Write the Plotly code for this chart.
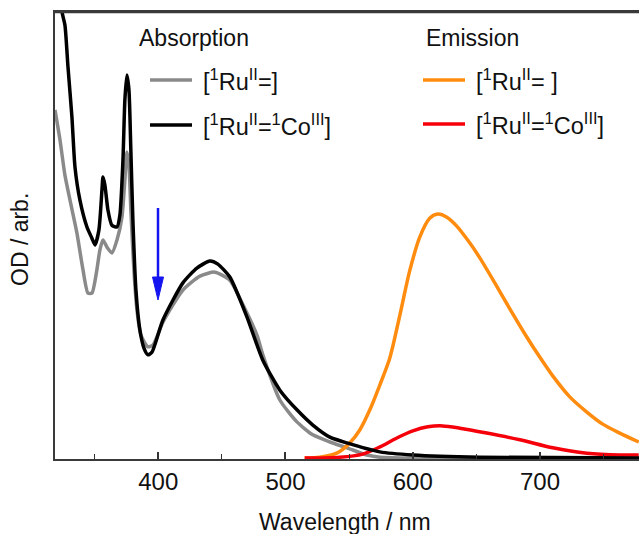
import plotly.graph_objects as go

# ---------------- data ----------------
abs_ru_wl = [318.9, 322.8, 326.7, 330.7, 336.1, 340.9, 344.8, 347.9, 351.8, 354.2,
             356.6, 359.7, 363.6, 367.6, 371.5, 373.8, 375.4, 377.0, 378.5, 380.9,
             383.3, 386.4, 391.9, 395.9, 403.7, 419.4, 432.8, 444.5, 456.3, 466.6,
             477.6, 482.2, 495.6, 509.0, 521.5, 534.9, 548.3, 564.0, 574.2, 605.6, 777.8]
abs_ru_od = [0.781, 0.714, 0.635, 0.579, 0.506, 0.423, 0.371, 0.371, 0.423, 0.468,
             0.490, 0.474, 0.461, 0.490, 0.541, 0.624, 0.687, 0.658, 0.557, 0.423,
             0.333, 0.277, 0.251, 0.255, 0.306, 0.378, 0.409, 0.418, 0.400, 0.345,
             0.277, 0.233, 0.132, 0.083, 0.054, 0.038, 0.025, 0.009, 0.004, 0.002, 0.001]

abs_ruco_wl = [318.9, 324.4, 326.7, 329.1, 332.2, 334.6, 338.5, 344.0, 347.9, 350.3,
               353.4, 355.8, 356.6, 358.1, 360.5, 363.6, 367.6, 369.9, 372.3, 373.8,
               375.4, 377.0, 378.5, 380.1, 382.5, 385.6, 388.8, 391.9, 395.1, 403.7,
               419.4, 430.4, 440.6, 446.9, 456.3, 469.7, 482.2, 495.6, 509.0, 521.5,
               534.9, 548.3, 574.2, 600.1, 652.8, 777.8]
abs_ruco_od = [1.139, 1.000, 0.971, 0.877, 0.765, 0.653, 0.579, 0.519, 0.494, 0.479,
               0.512, 0.602, 0.631, 0.613, 0.557, 0.523, 0.519, 0.546, 0.669, 0.803,
               0.859, 0.826, 0.691, 0.535, 0.378, 0.289, 0.248, 0.233, 0.239, 0.311,
               0.394, 0.427, 0.443, 0.436, 0.407, 0.318, 0.221, 0.154, 0.110, 0.076,
               0.049, 0.036, 0.016, 0.009, 0.004, 0.002]

em_ru_wl = [515.1, 526.9, 540.3, 550.5, 558.4, 566.3, 574.2, 582.0, 589.9, 597.8,
            605.6, 613.5, 619.7, 626.8, 634.6, 644.9, 652.7, 664.5, 676.3, 689.6,
            699.8, 710.0, 723.4, 736.8, 749.3, 762.7, 777.6]
em_ru_int = [0.002, 0.004, 0.013, 0.036, 0.065, 0.110, 0.166, 0.226, 0.322, 0.423,
             0.497, 0.539, 0.548, 0.541, 0.521, 0.483, 0.450, 0.394, 0.336, 0.273,
             0.228, 0.186, 0.139, 0.105, 0.078, 0.058, 0.038]

em_ruco_wl = [515.1, 542.6, 560.7, 574.2, 587.5, 600.1, 611.9, 623.6, 637.0, 658.2,
              684.2, 710.1, 736.8, 762.7, 777.6]
em_ruco_int = [0.002, 0.004, 0.011, 0.027, 0.047, 0.063, 0.072, 0.074, 0.069, 0.058,
               0.043, 0.025, 0.013, 0.009, 0.009]

x_ticks = [400, 500, 600, 700]
x_tick_labels = ["400", "500", "600", "700"]

lab_ru = "[<sup>1</sup>Ru<sup>II</sup>=]"
lab_ruco = "[<sup>1</sup>Ru<sup>II</sup>=<sup>1</sup>Co<sup>III</sup>]"
lab_ru_em = "[<sup>1</sup>Ru<sup>II</sup>= ]"

# ---------------- figure ----------------
W, H = 639, 534
L, R, T, B = 55, 0, 12, 75
PW, PH = W - L - R, H - T - B
FONT = "Liberation Sans, Arial, Helvetica, sans-serif"

def px(xp):
    return (xp - L) / PW

def py(yp):
    return (H - B - yp) / PH

GRAY = "#8a8a8a"
BLACK = "#000000"
ORANGE = "#ff8c0f"
RED = "#f5000a"
BLUE = "#1414f0"
FRAME = "#3a3a3a"
LW = 3.5
TXT = "#111"

fig = go.Figure()
fig.add_trace(go.Scatter(x=abs_ru_wl, y=abs_ru_od, mode="lines", line=dict(color=GRAY, width=LW, shape="spline", smoothing=0.6), showlegend=False))
fig.add_trace(go.Scatter(x=em_ru_wl, y=em_ru_int, mode="lines", line=dict(color=ORANGE, width=LW, shape="spline", smoothing=0.8), showlegend=False))
fig.add_trace(go.Scatter(x=em_ruco_wl, y=em_ruco_int, mode="lines", line=dict(color=RED, width=LW, shape="spline", smoothing=0.8), showlegend=False))
fig.add_trace(go.Scatter(x=abs_ruco_wl, y=abs_ruco_od, mode="lines", line=dict(color=BLACK, width=LW, shape="spline", smoothing=0.6), showlegend=False))

ann = []
shapes = []
# top frame line
shapes.append(dict(type="line", xref="paper", yref="paper", x0=0, x1=1, y0=1, y1=1, line=dict(color=FRAME, width=2.5), layer="above"))
# legend headers
ann.append(dict(text="Absorption", x=px(137), y=py(38), xref="paper", yref="paper", xanchor="left", yanchor="middle", showarrow=False, font=dict(size=23, color=TXT)))
ann.append(dict(text="Emission", x=px(424), y=py(38), xref="paper", yref="paper", xanchor="left", yanchor="middle", showarrow=False, font=dict(size=23, color=TXT)))
entries = [(150, 80, GRAY, lab_ru), (150, 125, BLACK, lab_ruco),
           (423, 80, ORANGE, lab_ru_em), (423, 124, RED, lab_ruco)]
for x0, yy, col, lab in entries:
    shapes.append(dict(type="line", xref="paper", yref="paper", x0=px(x0), x1=px(x0 + 42), y0=py(yy), y1=py(yy), line=dict(color=col, width=LW)))
    ann.append(dict(text=lab, x=px(x0 + 51), y=py(yy), xref="paper", yref="paper", xanchor="left", yanchor="middle", showarrow=False, font=dict(size=23.5, color=TXT)))

# blue arrow (shaft + long narrow head)
shapes.append(dict(type="line", xref="paper", yref="paper", x0=px(158), x1=px(158), y0=py(208), y1=py(282), line=dict(color=BLUE, width=2.5)))
shapes.append(dict(type="path", xref="paper", yref="paper",
                   path=f"M {px(152.5)} {py(277)} L {px(163.5)} {py(277)} L {px(158)} {py(300)} Z",
                   fillcolor=BLUE, line=dict(color=BLUE, width=1)))

# axis titles
ann.append(dict(text="Wavelength / nm", x=px(345), y=py(522), xref="paper", yref="paper", xanchor="center", yanchor="middle", showarrow=False, font=dict(size=23, color=TXT)))
ann.append(dict(text="OD / arb.", x=px(20), y=py(240), xref="paper", yref="paper", xanchor="center", yanchor="middle", showarrow=False, textangle=-90, font=dict(size=23, color=TXT)))

fig.update_layout(
    width=W, height=H,
    margin=dict(l=L, r=R, t=T, b=B),
    paper_bgcolor="white", plot_bgcolor="white",
    font=dict(family=FONT, size=23, color=TXT),
    annotations=ann, shapes=shapes,
    xaxis=dict(range=[318.9, 777.8], tickvals=x_ticks, ticktext=x_tick_labels,
               ticks="inside", ticklen=7, tickwidth=1.5, tickcolor="#333",
               minor=dict(dtick=50, tick0=350, ticks="inside", ticklen=5, tickwidth=1.2, tickcolor="#333"),
               showline=True, linecolor=FRAME, linewidth=2, mirror=True,
               showgrid=False, zeroline=False, tickfont=dict(size=24, color=TXT)),
    yaxis=dict(range=[0, 1], showticklabels=False, ticks="", showline=True, linecolor=FRAME, linewidth=2,
               showgrid=False, zeroline=False),
)

fig.write_html("out.html", config={"displayModeBar": False},
               post_script="document.body.style.margin='0';document.body.style.overflow='hidden';")
